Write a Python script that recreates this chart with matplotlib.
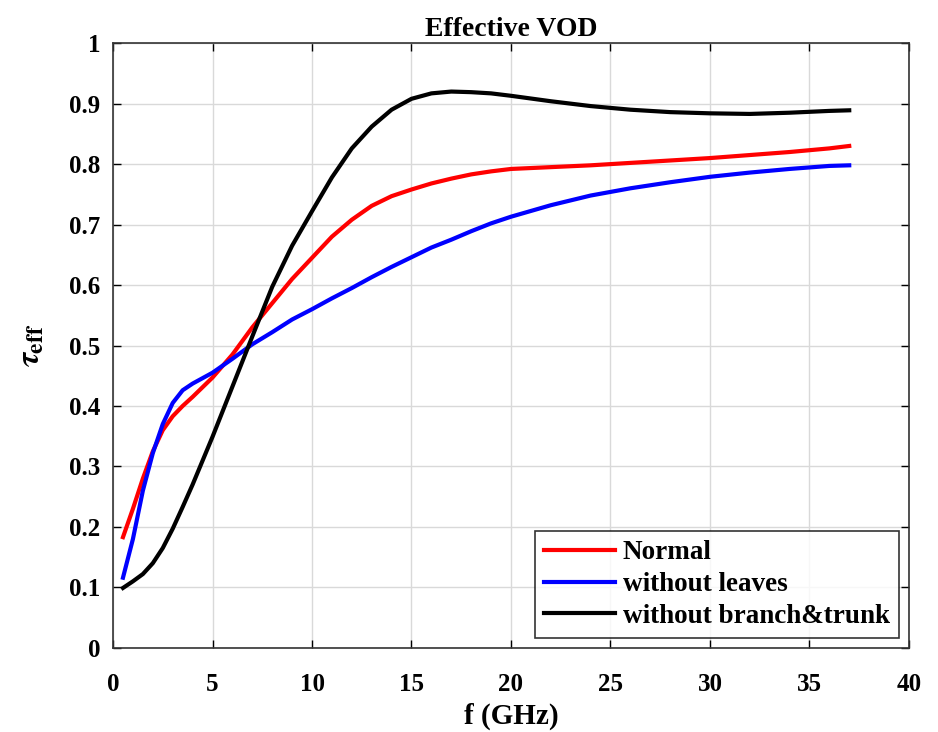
import numpy as np
import matplotlib
matplotlib.use("Agg")
import matplotlib.pyplot as plt

plt.rcParams['font.family'] = ['Liberation Serif', 'DejaVu Serif']
plt.rcParams['font.weight'] = 'bold'
plt.rcParams['mathtext.fontset'] = 'stix'

# frequency (GHz)
freq = [0.5, 1, 1.5, 2, 2.5, 3, 3.5, 4, 5, 6, 7, 8, 9, 10, 11, 12, 13, 14, 15,
        16, 17, 18, 19, 20, 22, 24, 26, 28, 30, 32, 34, 36, 37]

normal = [0.183, 0.23, 0.28, 0.325, 0.36, 0.383, 0.40, 0.415, 0.447, 0.485, 0.53,
          0.57, 0.61, 0.645, 0.68, 0.708, 0.731, 0.747, 0.758, 0.768, 0.776, 0.783,
          0.788, 0.792, 0.795, 0.798, 0.802, 0.806, 0.81, 0.815, 0.82, 0.826, 0.83]

no_leaves = [0.116, 0.18, 0.26, 0.322, 0.37, 0.405, 0.426, 0.437, 0.455, 0.478, 0.502,
             0.522, 0.543, 0.56, 0.578, 0.595, 0.613, 0.63, 0.646, 0.662, 0.675, 0.689,
             0.702, 0.713, 0.732, 0.748, 0.76, 0.77, 0.779, 0.786, 0.792, 0.797, 0.798]

no_branch = [0.099, 0.11, 0.122, 0.14, 0.165, 0.197, 0.233, 0.27, 0.349, 0.432, 0.515,
             0.597, 0.665, 0.722, 0.778, 0.826, 0.862, 0.89, 0.908, 0.917, 0.92, 0.919,
             0.917, 0.913, 0.904, 0.896, 0.89, 0.886, 0.884, 0.883, 0.885, 0.888, 0.889]

labels = ['Normal', 'without leaves', 'without branch&trunk']
colors = ['#ff0000', '#0000ff', '#000000']

fig = plt.figure(figsize=(9.38, 7.32), dpi=100)
ax = fig.add_axes([0.1205, 0.115, 0.8485, 0.826])

for y, lab, c in zip([normal, no_leaves, no_branch], labels, colors):
    ax.plot(freq, y, color=c, lw=3, label=lab)

ax.set_xlim(0, 40)
ax.set_ylim(0, 1)
ax.set_xticks(np.arange(0, 41, 5))
ax.set_yticks(np.arange(0, 1.01, 0.1))
ax.set_yticklabels(['0', '0.1', '0.2', '0.3', '0.4', '0.5', '0.6', '0.7', '0.8', '0.9', '1'])
ax.tick_params(direction='in', top=True, right=True, labelsize=18, length=6, width=1)
ax.tick_params(axis='x', pad=18)
ax.tick_params(axis='y', pad=9)
ax.grid(True, color='#d9d9d9', lw=1)
ax.set_axisbelow(True)
for s in ax.spines.values():
    s.set_color('#333333')
    s.set_linewidth(1.2)

ax.set_title('Effective VOD', fontsize=20, fontweight='bold', pad=5)
ax.set_xlabel('f (GHz)', fontsize=21, fontweight='bold', labelpad=5)
ax.set_ylabel(r'$\tau_{\rm eff}$', fontsize=24, fontweight='normal', labelpad=16)

leg = ax.legend(loc='lower right', fontsize=19.5, fancybox=False, edgecolor='black',
                handlelength=2.6, borderaxespad=0.35, handletextpad=0.3,
                labelspacing=0.25, borderpad=0.35)
leg.get_frame().set_linewidth(1.2)
for t in leg.get_texts():
    t.set_fontweight('bold')

fig.savefig('out.png', dpi=100)
